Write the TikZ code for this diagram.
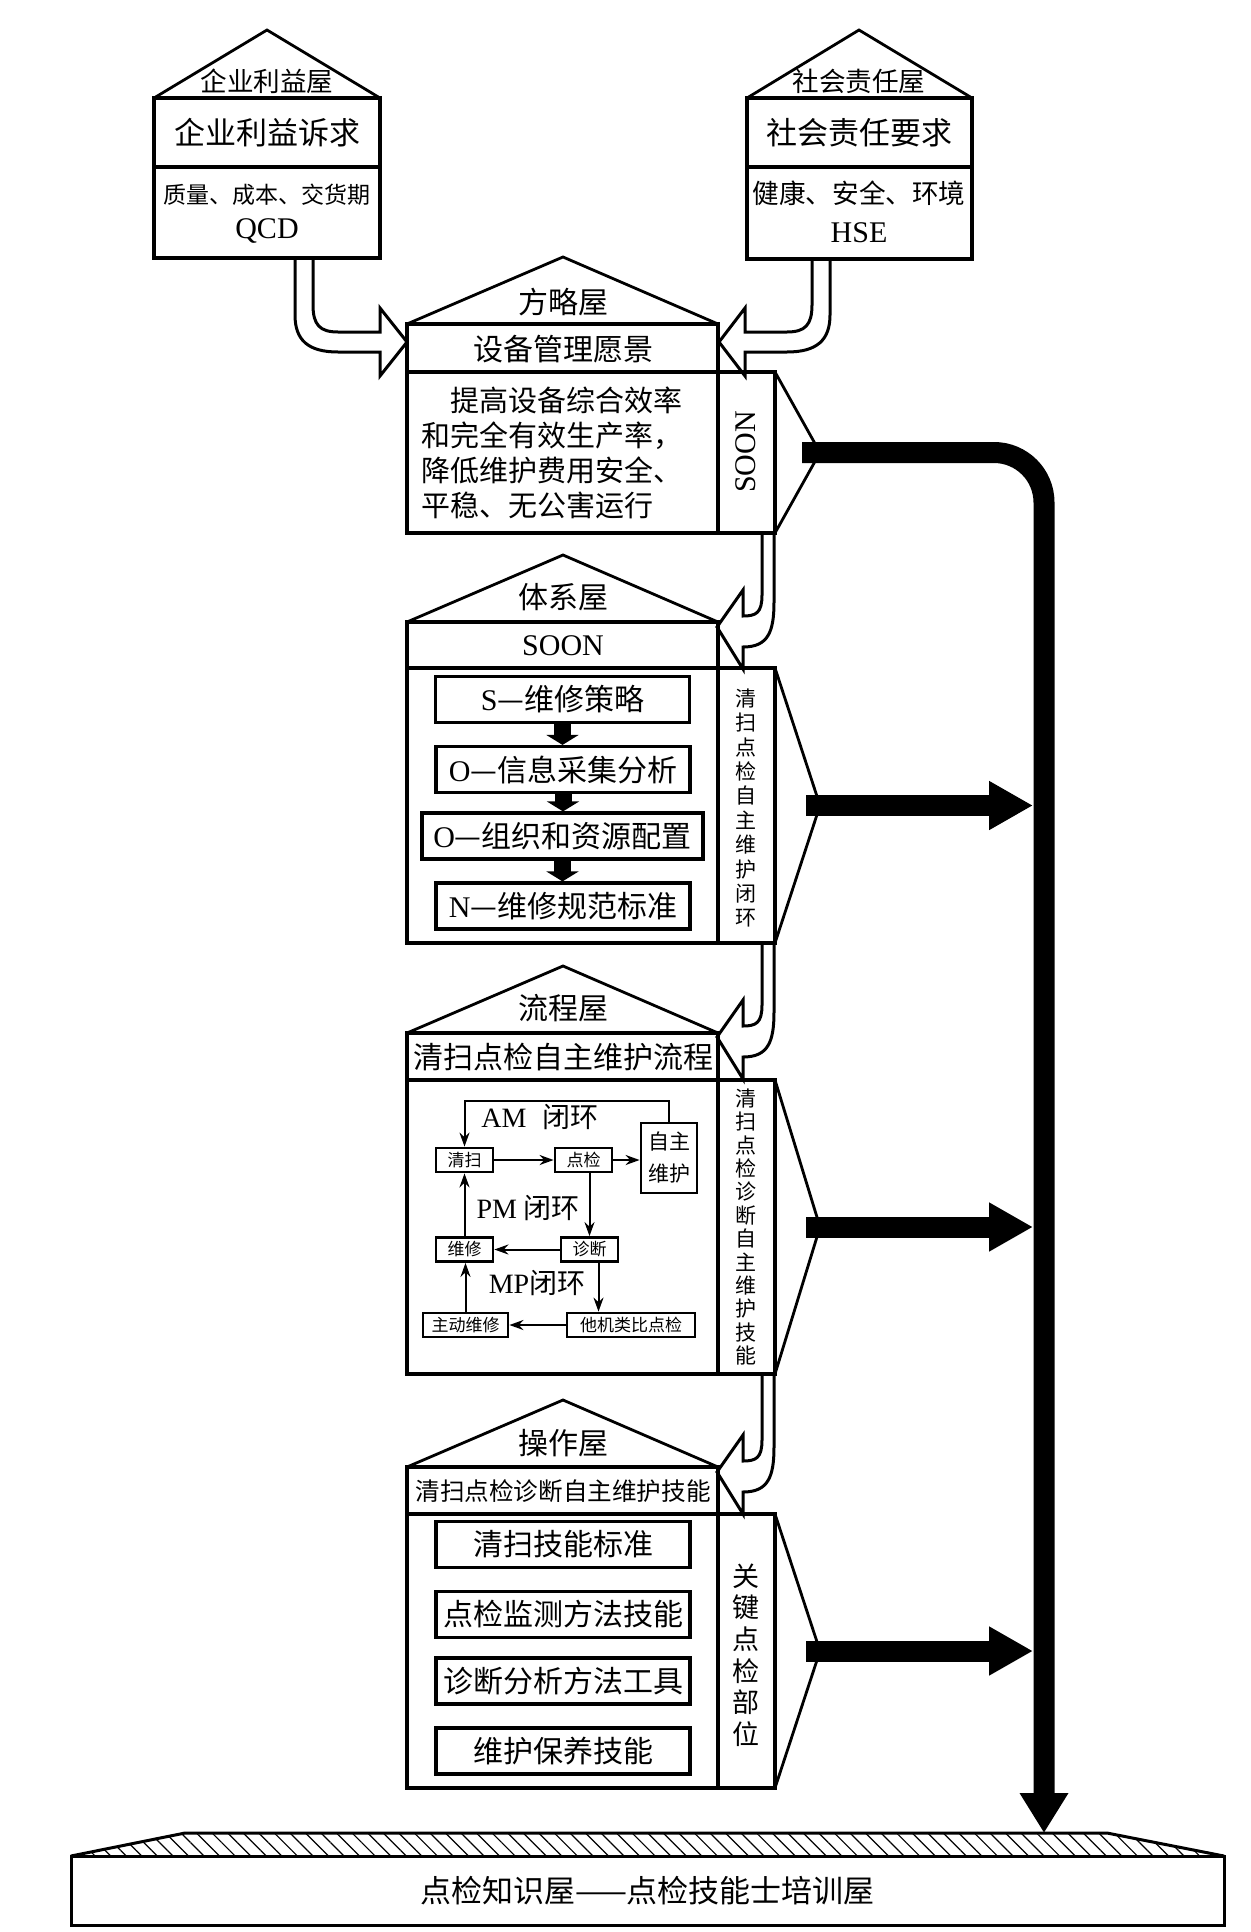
\documentclass[tikz,border=0pt]{standalone}
\usepackage{fontspec}
\setmainfont{Liberation Serif}
\newfontfamily\cjk{Noto Sans CJK SC}
\usetikzlibrary{arrows, arrows.meta, positioning, patterns.meta}
\newcommand{\lat}[1]{{\rmfamily #1}}
\tikzset{
  wall/.style = {draw=black, line width=1.8pt},
  roofline/.style = {draw=black, line width=1.4pt},
  word/.style = {inner sep=0pt, align=center,
    font=\cjk\fontsize{15pt}{18pt}\selectfont},
  wordsm/.style = {word, font=\cjk\fontsize{13.3pt}{16pt}\selectfont},
  side/.style = {inner sep=0pt, align=center,
    font=\cjk\fontsize{10.5pt}{12.2pt}\selectfont},
  item/.style = {draw=black, line width=1.6pt, inner sep=0pt,
    minimum width=127pt, minimum height=23pt,
    font=\cjk\fontsize{15pt}{18pt}\selectfont},
  flowbox/.style = {draw=black, line width=1.4pt, inner sep=0pt, align=center,
    minimum width=28.5pt, minimum height=12pt,
    font=\cjk\fontsize{8.5pt}{10pt}\selectfont},
  flowlbl/.style = {inner sep=0pt, font=\cjk\fontsize{14pt}{16pt}\selectfont},
  flow/.style = {line width=1pt, -{Stealth[length=7pt, width=5pt]}},
  fat/.style = {line width=8.5pt, -{Triangle[length=5pt, width=16pt]}},
  bigbar/.style = {line width=10.5pt, -{Triangle[length=22pt, width=23pt]}},
  hollow/.style = {draw=black, fill=white, line width=1.5pt}
}

\begin{document}
\begin{tikzpicture}[x=0.5pt, y=-0.5pt]
\useasboundingbox (0,0) rectangle (1251,1932);

% hollow arrows into the strategy house
\draw[hollow] (313,258) -- (313,305) .. controls (313,325) and (320,332) .. (338,332)
  -- (380,332) -- (380,308) -- (407,342) -- (380,376) -- (380,352) -- (338,352)
  .. controls (308,352) and (295,340) .. (295,315) -- (295,258);
\draw[hollow] (812,259) -- (812,305) .. controls (812,325) and (805,332) .. (787,332)
  -- (745,332) -- (745,308) -- (719,342) -- (745,376) -- (745,352) -- (787,352)
  .. controls (817,352) and (830,340) .. (830,315) -- (830,259);
% hollow arrows from house to house
\foreach \t/\tp in {533/627, 943/1037, 1374/1472}
  \draw[hollow] (762,\t) -- (762,\tp-32) .. controls (762,\tp-14) and (756,\tp-11) .. (743,\tp-11)
    -- (743,\tp-37) -- (717,\tp) -- (743,\tp+42) -- (743,\tp+20)
    .. controls (768,\tp+20) and (774,\tp+5) .. (774,\tp-25) -- (774,\t);

% top houses
\draw[wall] (154,98) rectangle (380,258) (154,167) -- (380,167);
\draw[roofline] (154,98) -- (267,30) -- (380,98);
\draw[wall] (747,98) rectangle (972,259) (747,167) -- (972,167);
\draw[roofline] (747,98) -- (859,30) -- (972,98);

% the column of houses with their side panels
\foreach \i/\e/\d/\b in {1/324/372/533, 2/622/668/943, 3/1033/1080/1374, 4/1467/1514/1788}{
  \draw[wall] (407,\e) rectangle (718,\b) (407,\d) -- (718,\d);
  \draw[roofline] (407,\e) -- (563,\e-67) -- (718,\e);
  \draw[wall] (718,\d) rectangle (775,\b);
  \draw[roofline] (775,\d) -- (820,{(\d+\b)/2}) -- (775,\b);
  \coordinate (w\i) at (820,{(\d+\b)/2});
}

\node[wordsm] (qyroof) at (267,81) {企业利益屋};
\node[word, font=\cjk\fontsize{15.5pt}{18pt}\selectfont] (qyneed) at (267,133) {企业利益诉求};
\node[word, font=\cjk\fontsize{11.5pt}{14pt}\selectfont] (qyqcd) at (267,195) {质量、成本、交货期};
\node[word] (qcd) at (267,231) {\lat{QCD}};
\node[wordsm] (shroof) at (859,81) {社会责任屋};
\node[word, font=\cjk\fontsize{15.5pt}{18pt}\selectfont] (shneed) at (859,133) {社会责任要求};
\node[wordsm] (shhse) at (859,193) {健康、安全、环境};
\node[word] (hse) at (859,233) {\lat{HSE}};

% strategy house
\node[word] (flroof) at (563,302) {方略屋};
\node[word] (vision) at (563,349) {设备管理愿景};
\node[inner sep=0pt, align=left, anchor=west,
  font=\cjk\fontsize{14.5pt}{17.5pt}\selectfont] (goal) at (421,453)
  {\hspace*{1em}提高设备综合效率\\和完全有效生产率，\\降低维护费用安全、\\平稳、无公害运行};
\node[word, rotate=90] (soonside) at (746,452) {\lat{SOON}};

% system house
\node[word] (txroof) at (563,597) {体系屋};
\node[word] (soon) at (563,646) {\lat{SOON}};
\node[item] (s) at (562.5,699.5) {\lat{S}—维修策略};
\node[item] (o1) at (563,769.5) {\lat{O}—信息采集分析};
\node[item, minimum width=140.5pt] (o2) at (562.5,836) {\lat{O}—组织和资源配置};
\node[item] (n) at (563,906) {\lat{N}—维修规范标准};
\draw[fat] (s.south) -- (s.south |- o1.north);
\draw[fat] (o1.south) -- (o1.south |- o2.north);
\draw[fat] (o2.south) -- (o2.south |- n.north);
\node[side] (txside) at (746,808) {清\\扫\\点\\检\\自\\主\\维\\护\\闭\\环};

% process house
\node[word] (lcroof) at (563,1008) {流程屋};
\node[word] (lchead) at (563,1057) {清扫点检自主维护流程};
\node[flowbox] (qingsao) at (464.5,1160) {清扫};
\node[flowbox] (dianjian) at (583.5,1160) {点检};
\node[flowbox, minimum width=28pt, minimum height=35pt,
  font=\cjk\fontsize{10.5pt}{16pt}\selectfont] (zizhu) at (669,1158) {自主\\维护};
\node[flowbox] (weixiu) at (464.5,1249.5) {维修};
\node[flowbox] (zhenduan) at (589.5,1249.5) {诊断};
\node[flowbox, minimum width=42.5pt] (zhudong) at (465.5,1325) {主动维修};
\node[flowbox, minimum width=64pt] (taji) at (631,1325) {他机类比点检};
\node[flowlbl] (am) at (540,1117) {\lat{AM}\hspace{8pt}闭环};
\node[flowlbl] (pm) at (528,1208) {\lat{PM} 闭环};
\node[flowlbl] (mp) at (537,1283) {\lat{MP}闭环};
\draw[flow] (qingsao) -- (dianjian);
\draw[flow] (dianjian.east) -- (dianjian.east -| zizhu.west);
\draw[flow] (zizhu.north) -- ++(0,-21) -| (qingsao.north);
\draw[flow] (zhenduan.north |- dianjian.south) -- (zhenduan.north);
\draw[flow] (zhenduan) -- (weixiu);
\draw[flow] ([xshift=4.5pt]zhenduan.south) -- ([xshift=4.5pt]zhenduan.south |- taji.north);
\draw[flow] (taji) -- (zhudong);
\draw[flow] (zhudong.north) -- (zhudong.north |- weixiu.south);
\draw[flow] (weixiu) -- (qingsao);
\node[side, font=\cjk\fontsize{10.5pt}{11.7pt}\selectfont] (lcside) at (746,1227)
  {清\\扫\\点\\检\\诊\\断\\自\\主\\维\\护\\技\\能};

% operation house
\node[word] (czroof) at (563,1443) {操作屋};
\node[word, font=\cjk\fontsize{12.3pt}{14pt}\selectfont] (czhead) at (563,1491) {清扫点检诊断自主维护技能};
\node[item] (k1) at (563,1544.5) {清扫技能标准};
\node[item] (k2) at (563,1614.5) {点检监测方法技能};
\node[item] (k3) at (563,1681) {诊断分析方法工具};
\node[item] (k4) at (563,1751) {维护保养技能};
\node[side, font=\cjk\fontsize{13.5pt}{15.8pt}\selectfont] (czside) at (746,1655)
  {关\\键\\点\\检\\部\\位};

% foundation
\fill[pattern={Lines[angle=-45, distance=5.5pt, line width=0.6pt]}]
  (71,1856) -- (185,1833) -- (1107,1833) -- (1224,1856) -- cycle;
\draw[line width=1.5pt] (71,1856) -- (185,1833) -- (1107,1833) -- (1224,1856);
\node[draw=black, line width=1.5pt, inner sep=0pt, minimum width=576.5pt,
  minimum height=34.5pt, font=\cjk\fontsize{15.5pt}{18pt}\selectfont]
  (fnd) at (647.5,1890.5) {点检知识屋——点检技能士培训屋};

% black arrows
\coordinate (base) at (1044,1833);
\coordinate (vbar) at (1033,0);
\draw[bigbar, -{Triangle[length=20pt, width=23pt]}, rounded corners=25pt]
  ([xshift=-9pt]w1) -| (base);
\foreach \i in {2,3,4}
  \draw[bigbar] ([xshift=-7pt]w\i) -- (w\i -| vbar);
\end{tikzpicture}
\end{document}
